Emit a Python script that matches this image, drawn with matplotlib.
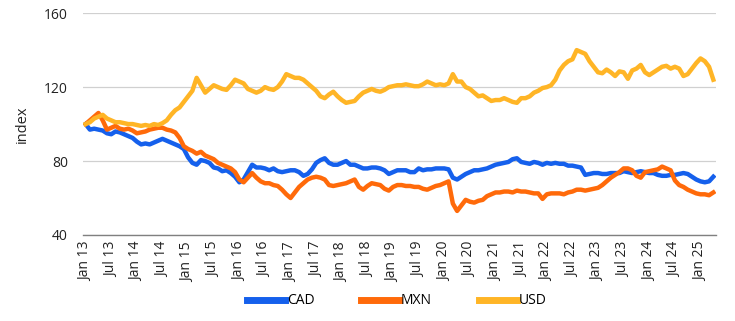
import numpy as np
import matplotlib
matplotlib.use("Agg")
from matplotlib import pyplot as plt

plt.rcParams['font.family'] = ['Open Sans', 'DejaVu Sans']

# monthly index values, Jan 2013 .. Apr 2025
usd = [100, 101, 103, 104, 105, 103, 102, 101, 101, 100.5, 100, 100,
       99.5, 99, 99.5, 99, 100, 99.5, 100.5, 102, 105, 107.5, 109, 112,
       115, 118, 125, 121, 117, 119, 121, 120, 119, 118.5, 121, 124,
       123, 122, 119, 118, 117, 118, 120, 119, 118.5, 120, 123, 127,
       126, 125, 125, 124, 122, 120, 118, 115, 114, 116, 117.5, 115,
       113, 111.5, 112, 112.5, 115, 117, 118, 119, 118, 117.5, 118.5, 120,
       120.5, 121, 121, 121.5, 121, 120.5, 120.5, 121.5, 123, 122, 121, 121.5,
       121, 122, 127, 123, 123, 120, 119, 117, 115, 115.5, 114, 112.5,
       113, 113, 114, 113, 112, 111.5, 114, 114, 115, 117, 118, 119.5,
       120, 121, 124, 129, 132, 134, 135, 140, 139, 138, 134, 131,
       128, 127.5, 129.5, 128, 126, 128.5, 128, 124.5, 129, 130, 132, 128,
       126.5, 128, 129.5, 131, 131.5, 130, 131, 130, 126, 127, 130, 133,
       135.5, 134, 131, 124]

cad = [100, 97, 97.5, 97, 96.5, 95, 94.5, 96, 95.5, 94.5, 93.5, 92.5,
       90.5, 89, 89.5, 89, 90, 91, 92, 91, 90, 89, 88, 86.5,
       82, 79, 78, 80.5, 80, 79, 76.5, 76, 74.5, 75, 73.5, 71.5,
       68.5, 70, 74, 78, 76.5, 76.5, 76, 75, 76, 74.5, 74, 74.5,
       75, 75, 74, 72, 73, 75.5, 79, 80.5, 81.5, 79, 78, 78,
       79, 80, 78, 78, 77, 76, 76, 76.5, 76.5, 76, 75, 73,
       74, 75, 75, 75, 74, 74, 76, 75, 75.5, 75.5, 76, 76,
       76, 75.5, 71, 70, 71.5, 73, 74, 75, 75, 75.5, 76, 77,
       78, 78.5, 79, 79.5, 81, 81.5, 79.5, 79, 78.5, 79.5, 79, 78,
       79, 78.5, 79, 78.5, 78.5, 77.5, 77.5, 77, 76.5, 72.5, 73, 73.5,
       73.5, 73, 73, 73.5, 73.5, 73.5, 74.5, 74, 73.5, 74, 74.5, 74,
       73.5, 73.5, 72.5, 72, 72, 72.5, 72.5, 73, 73.5, 73, 71.5, 70,
       69, 68.5, 69, 71.5]

mxn = [100, 102, 104, 106, 102, 97, 98, 99, 97.5, 97, 97.5, 96.5,
       95, 95.5, 96, 97, 97.5, 98, 98, 97, 96.5, 95.5, 92.5, 88,
       86.5, 85.5, 84, 85, 83, 82, 81, 79, 78, 77, 76, 74,
       70, 68.5, 71, 73.5, 71, 69, 68, 68, 67, 66.5, 64.5, 62,
       60, 63, 66, 68, 70, 71, 71.5, 71, 70, 67, 66.5, 67,
       67.5, 68, 69, 70, 66, 64.5, 66.5, 68, 67.5, 67, 65, 64,
       66, 67, 67, 66.5, 66.5, 66, 66, 65, 64.5, 65.5, 66.5, 67,
       68, 69, 57, 53, 56, 59, 58, 57.5, 58.5, 59, 61, 62,
       63, 63, 63.5, 63.5, 63, 64, 63.5, 63.5, 63, 62.5, 62.5, 59.5,
       62, 62.5, 62.5, 62.5, 62, 63, 63.5, 64.5, 64.5, 64, 64.5, 65,
       65.5, 67, 69, 71, 72.5, 74, 76, 76, 75, 72, 71, 74,
       74.5, 75, 75.5, 77, 76, 75, 69.5, 67, 66, 64.5, 63.5, 62.5,
       62, 62, 61.5, 63]

tick_labels = []
for yr in range(13, 26):
    tick_labels.append("Jan " + str(yr))
    if yr < 25:
        tick_labels.append("Jul " + str(yr))

months = np.arange(len(usd))

fig = plt.figure(figsize=(7.35, 3.21), dpi=100)
ax = fig.add_axes([0.113, 0.268, 0.861, 0.691])

ax.plot(months, cad, color='#1560EC', lw=3.2, label='CAD', solid_joinstyle='round')
ax.plot(months, mxn, color='#FF6A0A', lw=3.2, label='MXN', solid_joinstyle='round')
ax.plot(months, usd, color='#FFB526', lw=3.2, label='USD', solid_joinstyle='round')

ax.set_ylim(40, 160)
ax.set_yticks([40, 80, 120, 160])
ax.set_xlim(-0.6, 147.6)
ax.set_xticks(np.arange(0, 145, 6))
ax.set_xticklabels(tick_labels, rotation=90)
ax.tick_params(length=0, labelsize=10, colors='#222222')
ax.tick_params(axis='y', pad=11)
ax.tick_params(axis='x', pad=5)

ax.grid(axis='y', color='#D0D0D0', lw=0.9)
ax.set_axisbelow(True)
for s in ['left', 'right', 'top']:
    ax.spines[s].set_visible(False)
ax.spines['bottom'].set_color('#808080')
ax.spines['bottom'].set_linewidth(1.0)

ax.set_ylabel('index', fontsize=10.5, color='#222222', labelpad=10)

leg = fig.legend(loc='lower center', bbox_to_anchor=(0.54, 0.0), ncol=3, frameon=False,
                 fontsize=10, handlelength=2.7, columnspacing=3.4, handletextpad=0.15)
for h in leg.get_lines():
    h.set_linewidth(5)

fig.savefig('out.png', dpi=100)
